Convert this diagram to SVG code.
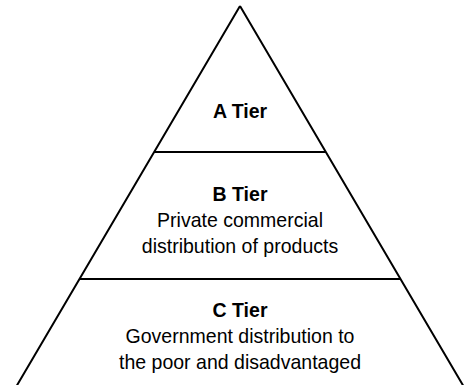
<svg xmlns="http://www.w3.org/2000/svg" width="464" height="385" viewBox="0 0 464 385">
<style>
.edge{fill:none;stroke:#000;stroke-width:2}
text{font-family:"Liberation Sans",Arial,sans-serif;font-size:21px;fill:#000;text-anchor:middle}
.b{font-weight:bold}
</style>
<rect width="464" height="385" fill="#fff"/>
<g id="connectors">
<path class="edge" d="M240,6 L16,387 M240,6 L464,387"/>
<path class="edge" d="M154,152 L326,152 M79,279 L401,279"/>
</g>
<g id="tierA" transform="translate(240,0) scale(0.93,1)"><text class="b" x="0" y="118">A Tier</text></g>
<g id="tierB" transform="translate(240,0) scale(0.93,1)"><text class="b" x="0" y="201">B Tier</text><text x="0" y="227">Private commercial</text><text x="0" y="253">distribution of products</text></g>
<g id="tierC" transform="translate(240,0) scale(0.93,1)"><text class="b" x="0" y="317">C Tier</text><text x="0" y="343">Government distribution to</text><text x="0" y="369">the poor and disadvantaged</text></g>
</svg>
